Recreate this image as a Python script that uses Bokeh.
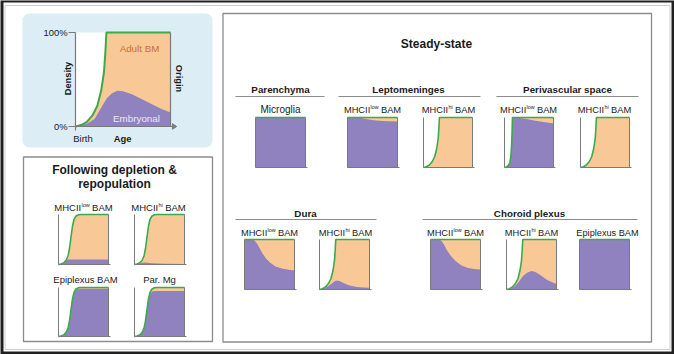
import math
from bokeh.plotting import figure
from bokeh.models import Range1d
from bokeh.core.properties import value
from bokeh.embed import file_html
from bokeh.resources import INLINE

# ---------------- data (normalised age 0..1, normalised density 0..1) ----------------
# total density curves (green line)
DENS_RISE_X = [0, 0.06, 0.12, 0.18, 0.23, 0.27, 0.30, 0.315, 0.325, 1.0]
DENS_RISE_Y = [0, 0.015, 0.05, 0.12, 0.22, 0.38, 0.58, 0.80, 1.0, 1.0]
DENS_STEEP_X = [0, 0.04, 0.08, 0.11, 0.13, 0.145, 0.155, 0.162, 1.0]
DENS_STEEP_Y = [0, 0.01, 0.04, 0.10, 0.22, 0.45, 0.72, 1.0, 1.0]
DENS_SIGM_X = [0, 0.05, 0.10, 0.15, 0.19, 0.22, 0.25, 0.28, 0.31, 0.35, 0.40, 0.45, 1.0]
DENS_SIGM_Y = [0, 0.01, 0.03, 0.08, 0.17, 0.32, 0.55, 0.77, 0.90, 0.97, 0.995, 1.0, 1.0]
DENS_FULL_X = [0, 1.0]
DENS_FULL_Y = [1.0, 1.0]

# embryonal-origin part of the density (purple)
EMB_MAIN_X = [0, 0.12, 0.20, 0.27, 0.33, 0.38, 0.44, 0.50, 0.60, 0.70, 0.80, 0.90, 1.0]
EMB_MAIN_Y = [0, 0.03, 0.08, 0.20, 0.30, 0.35, 0.38, 0.375, 0.34, 0.29, 0.24, 0.19, 0.15]
EMB_FULL_X = [0, 1.0]
EMB_FULL_Y = [1.0, 1.0]
EMB_LEPTO_LOW_X = [0, 0.22, 0.30, 0.40, 0.52, 0.70, 1.0]
EMB_LEPTO_LOW_Y = [1.0, 1.0, 0.985, 0.965, 0.945, 0.93, 0.92]
EMB_PERIV_LOW_X = [0, 0.04, 0.08, 0.11, 0.13, 0.145, 0.155, 0.163, 0.30, 0.45, 0.60, 0.80, 1.0]
EMB_PERIV_LOW_Y = [0, 0.005, 0.03, 0.08, 0.20, 0.43, 0.70, 0.99, 0.99, 0.97, 0.94, 0.91, 0.88]
EMB_DURA_LOW_X = [0, 0.15, 0.20, 0.25, 0.30, 0.36, 0.43, 0.52, 0.62, 0.75, 0.88, 1.0]
EMB_DURA_LOW_Y = [1.0, 1.0, 0.98, 0.92, 0.83, 0.72, 0.62, 0.53, 0.46, 0.42, 0.395, 0.38]
EMB_DURA_HI_X = [0, 0.10, 0.18, 0.26, 0.31, 0.36, 0.42, 0.50, 0.60, 0.75, 0.88, 1.0]
EMB_DURA_HI_Y = [0, 0.02, 0.07, 0.13, 0.17, 0.18, 0.16, 0.12, 0.08, 0.05, 0.04, 0.035]
EMB_CP_LOW_X = [0, 0.17, 0.22, 0.27, 0.32, 0.40, 0.50, 0.62, 0.75, 0.88, 1.0]
EMB_CP_LOW_Y = [1.0, 1.0, 0.97, 0.90, 0.80, 0.68, 0.57, 0.48, 0.43, 0.41, 0.40]
EMB_CP_HI_X = [0, 0.10, 0.16, 0.22, 0.28, 0.34, 0.42, 0.50, 0.58, 0.69, 0.80, 0.90, 1.0]
EMB_CP_HI_Y = [0, 0.02, 0.06, 0.12, 0.20, 0.28, 0.34, 0.37, 0.35, 0.28, 0.20, 0.15, 0.11]
EMB_DEP_LOW_X = [0, 0.10, 0.15, 0.19, 0.30, 1.0]
EMB_DEP_LOW_Y = [0, 0.025, 0.07, 0.10, 0.10, 0.10]
EMB_DEP_HI_X = [0, 0.10, 0.15, 0.22, 0.35, 0.60, 1.0]
EMB_DEP_HI_Y = [0, 0.02, 0.035, 0.04, 0.025, 0.015, 0.01]
EMB_DEP_EPI_X = [0, 0.05, 0.10, 0.15, 0.19, 0.22, 0.25, 0.28, 0.31, 0.35, 0.42, 1.0]
EMB_DEP_EPI_Y = [0, 0.008, 0.025, 0.07, 0.16, 0.31, 0.54, 0.76, 0.89, 0.955, 0.975, 0.975]
EMB_DEP_MG_X = [0, 0.05, 0.10, 0.15, 0.19, 0.22, 0.25, 0.28, 0.31, 0.36, 0.45, 1.0]
EMB_DEP_MG_Y = [0, 0.008, 0.025, 0.07, 0.16, 0.31, 0.54, 0.76, 0.88, 0.925, 0.93, 0.93]

# texts
MAIN_Y_TICKS = ["100%", "0%"]
MAIN_TEXTS = ["Density", "Age", "Birth", "Origin", "Adult BM", "Embryonal"]
STEADY_TITLE = "Steady-state"
DEPL_TITLE = ["Following depletion &", "repopulation"]
SECTIONS_TOP = ["Parenchyma", "Leptomeninges", "Perivascular space"]
SECTIONS_BOTTOM = ["Dura", "Choroid plexus"]

# ---------------- styles ----------------
W, H = 674, 354
ORANGE = "#F8C997"
PURPLE = "#8F82BF"
GREEN = "#3BAA4A"
AXIS = "#7a7a7a"
FRAME = "#8c8c8c"
BLUE = "#DCEDF5"
TXT = "#1a1a1a"
FONT = value("Liberation Sans")

p = figure(width=W, height=H, x_range=Range1d(0, W), y_range=Range1d(H, 0),
           output_backend="svg", toolbar_location=None, min_border=0,
           x_axis_location=None, y_axis_location=None)
p.xgrid.visible = False
p.ygrid.visible = False
p.outline_line_color = None
p.background_fill_color = "#202020"
p.border_fill_color = "#202020"

# page frame
p.quad(left=3, right=671, top=2, bottom=351, fill_color="white", line_color=None)
p.quad(left=4.5, right=669.5, top=5, bottom=349, fill_color=None, line_color="#cfcfcf", line_width=1)
# boxes
p.quad(left=22, right=212, top=13, bottom=147, fill_color=BLUE, line_color=None, border_radius=7)
p.quad(left=23, right=212, top=156.5, bottom=341, fill_color=None, line_color=FRAME, line_width=1.3)
p.quad(left=222.5, right=651, top=13, bottom=341.5, fill_color=None, line_color=FRAME, line_width=1.3)


def label(x, y, t, size, bold=False, color=TXT, align="center", angle=0.0):
    p.text(x=[x], y=[y], text=[t], text_font=FONT, text_font_size=f"{size}px",
           text_font_style="bold" if bold else "normal", text_color=color,
           text_align=align, text_baseline="middle", angle=angle)


def mhc(cx, cy, sup, size=9.3):
    base_w = 2.833 * size
    ssize = size * 0.58
    sup_w = (1.5 if sup == "low" else 0.778) * ssize
    space = 0.278 * size
    bam_w = 2.167 * size
    x = cx - (base_w + sup_w + space + bam_w) / 2
    label(x, cy, "MHCII", size, align="left")
    label(x + base_w + 0.2, cy - 2.6, sup, round(ssize, 1), align="left")
    label(x + base_w + sup_w + space, cy, "BAM", size, align="left")


def panel(name, x0, x1, y0, y1, dx, dy, ex=None, ey=None, main=False):
    w = x1 - x0
    h = y1 - y0
    xs = -x0 / w
    ys = -(H - y1) / h
    p.extra_x_ranges[name] = Range1d(xs, xs + W / w)
    p.extra_y_ranges[name] = Range1d(ys, ys + H / h)
    kw = dict(x_range_name=name, y_range_name=name)
    p.quad(left=0, right=1, bottom=0, top=1, fill_color="white", line_color=None, **kw)
    p.patch(list(dx) + [1, 0], list(dy) + [0, 0], fill_color=ORANGE, line_color=None, **kw)
    if ex is not None:
        p.patch(list(ex) + [1, 0], list(ey) + [0, 0], fill_color=PURPLE, line_color=None, **kw)
    p.line(dx, dy, line_color=GREEN, line_width=2.0 if main else 1.6, **kw)
    lw = 1.2 if main else 1.0
    ext = 1.03 if main else 1.04
    p.line([0, 0], [0, 1], line_color=AXIS, line_width=lw, **kw)
    p.line([1, 1], [0, 1], line_color=AXIS, line_width=lw, **kw)
    p.line([0, ext], [0, 0], line_color=AXIS, line_width=lw, **kw)
    if main:
        p.patch([1.02, 1.065, 1.02], [0.03, 0, -0.03], fill_color=AXIS, line_color=AXIS, **kw)


# ---------------- main schematic ----------------
panel("main", 75, 170, 32, 126, DENS_RISE_X, DENS_RISE_Y, EMB_MAIN_X, EMB_MAIN_Y, main=True)
p.segment(x0=[68, 68, 75], y0=[32, 126, 126], x1=[75, 75, 75], y1=[32, 126, 130],
          line_color=AXIS, line_width=1.1)
label(67, 32, MAIN_Y_TICKS[0], 9.4, align="right")
label(67, 126, MAIN_Y_TICKS[1], 9.4, align="right")
label(67.5, 78, MAIN_TEXTS[0], 9.3, bold=True, angle=math.pi / 2)
label(122, 137.5, MAIN_TEXTS[1], 9.4, bold=True)
label(82.5, 137.5, MAIN_TEXTS[2], 9.5)
label(178, 78, MAIN_TEXTS[3], 9.3, bold=True, angle=-math.pi / 2)
label(139, 48, MAIN_TEXTS[4], 9.8, color="#C4732F")
label(136, 117.5, MAIN_TEXTS[5], 9.8, color="#ECE8F7")

# ---------------- depletion & repopulation ----------------
label(114, 169, DEPL_TITLE[0], 12, bold=True)
label(114, 183, DEPL_TITLE[1], 12, bold=True)
mhc(83, 207, "low", 9.5)
mhc(158, 207, "hi", 9.5)
label(85, 279, "Epiplexus BAM", 9.5)
label(159, 279, "Par. Mg", 9.5)
panel("d1", 58, 108, 214, 264, DENS_SIGM_X, DENS_SIGM_Y, EMB_DEP_LOW_X, EMB_DEP_LOW_Y)
panel("d2", 134, 184, 214, 264, DENS_SIGM_X, DENS_SIGM_Y, EMB_DEP_HI_X, EMB_DEP_HI_Y)
panel("d3", 58, 108, 287, 336, DENS_SIGM_X, DENS_SIGM_Y, EMB_DEP_EPI_X, EMB_DEP_EPI_Y)
panel("d4", 134, 184, 287, 336, DENS_SIGM_X, DENS_SIGM_Y, EMB_DEP_MG_X, EMB_DEP_MG_Y)

# ---------------- steady state ----------------
label(436, 43, STEADY_TITLE, 12, bold=True)
label(280, 89, SECTIONS_TOP[0], 9.8, bold=True)
label(408, 89, SECTIONS_TOP[1], 9.8, bold=True)
label(567, 89, SECTIONS_TOP[2], 9.8, bold=True)
p.segment(x0=[235, 338, 496], y0=[96, 96, 96], x1=[324, 480, 638], y1=[96, 96, 96],
          line_color=FRAME, line_width=1.2)
label(305, 213, SECTIONS_BOTTOM[0], 9.8, bold=True)
label(529, 213, SECTIONS_BOTTOM[1], 9.8, bold=True)
p.segment(x0=[235, 422], y0=[219, 219], x1=[376, 637], y1=[219, 219],
          line_color=FRAME, line_width=1.2)

label(280, 109, "Microglia", 10)
mhc(372, 109, "low")
mhc(448, 109, "hi")
mhc(528, 109, "low")
mhc(604, 109, "hi")
mhc(269, 232, "low")
mhc(345, 232, "hi")
mhc(455, 232, "low")
mhc(531, 232, "hi")
label(607, 232, "Epiplexus BAM", 9.2)

panel("s1", 255, 305, 117, 167, DENS_FULL_X, DENS_FULL_Y, EMB_FULL_X, EMB_FULL_Y)
panel("s2", 347, 397, 117, 167, DENS_FULL_X, DENS_FULL_Y, EMB_LEPTO_LOW_X, EMB_LEPTO_LOW_Y)
panel("s3", 423, 472, 117, 167, DENS_RISE_X, DENS_RISE_Y)
panel("s4", 504, 553, 117, 167, DENS_STEEP_X, DENS_STEEP_Y, EMB_PERIV_LOW_X, EMB_PERIV_LOW_Y)
panel("s5", 580, 629, 117, 167, DENS_RISE_X, DENS_RISE_Y)
panel("s6", 244, 294, 239, 289, DENS_FULL_X, DENS_FULL_Y, EMB_DURA_LOW_X, EMB_DURA_LOW_Y)
panel("s7", 319, 369, 239, 289, DENS_RISE_X, DENS_RISE_Y, EMB_DURA_HI_X, EMB_DURA_HI_Y)
panel("s8", 430, 480, 239, 289, DENS_FULL_X, DENS_FULL_Y, EMB_CP_LOW_X, EMB_CP_LOW_Y)
panel("s9", 506, 556, 239, 289, DENS_RISE_X, DENS_RISE_Y, EMB_CP_HI_X, EMB_CP_HI_Y)
panel("s10", 579, 629, 239, 289, DENS_FULL_X, DENS_FULL_Y, EMB_FULL_X, EMB_FULL_Y)

open("out.html", "w").write(file_html(p, INLINE))
